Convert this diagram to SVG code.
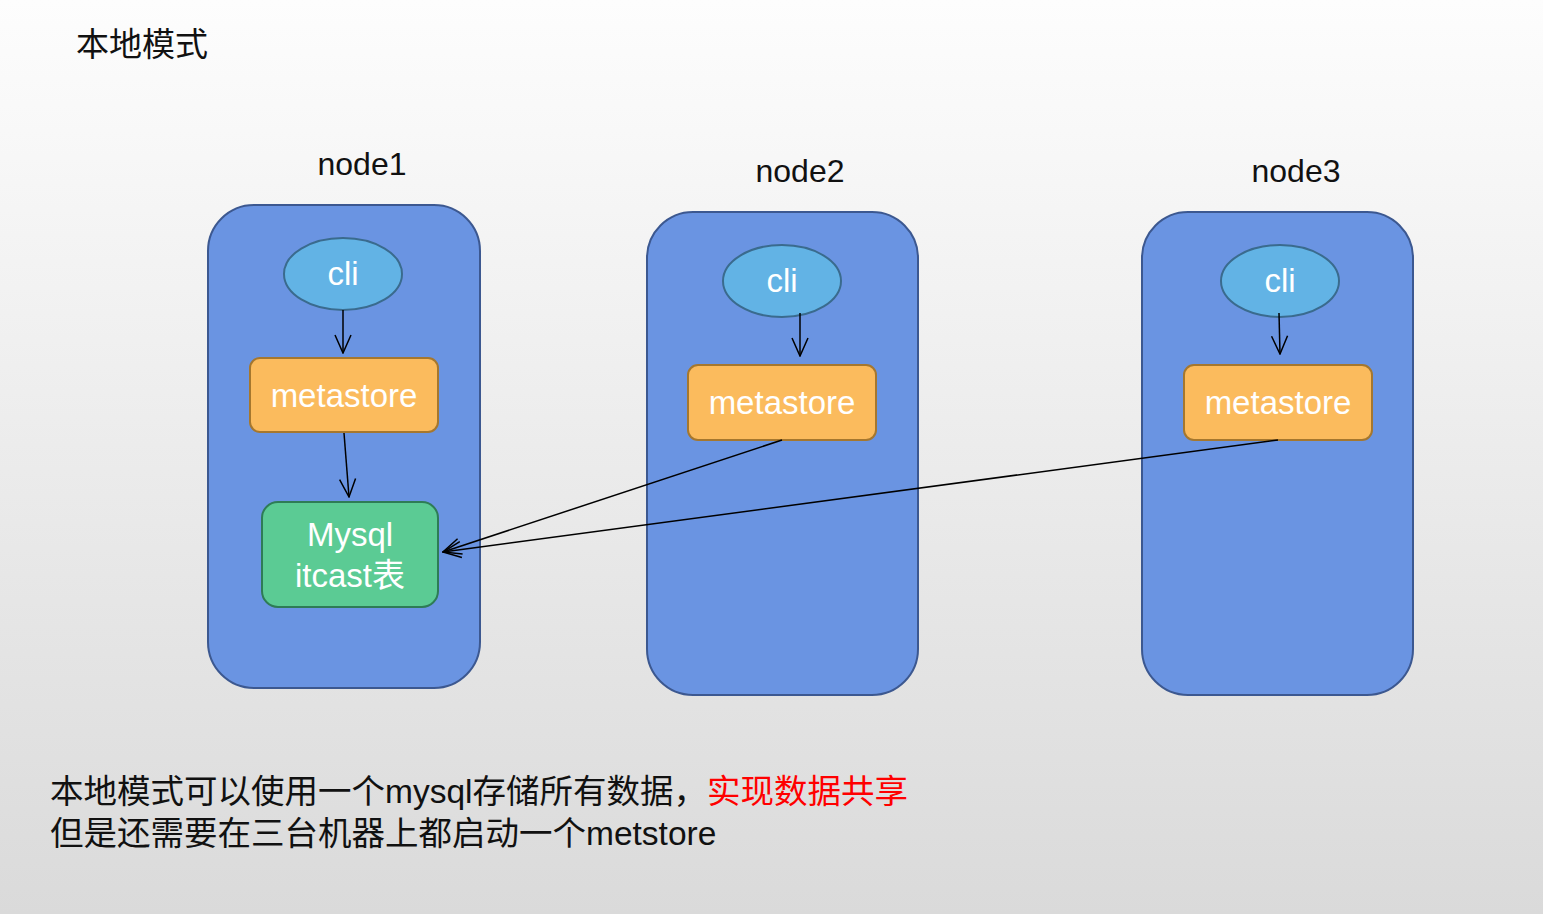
<svg xmlns="http://www.w3.org/2000/svg" width="1543" height="914" viewBox="0 0 1543 914">
<defs>
<linearGradient id="bg" x1="0" y1="0" x2="0" y2="1">
<stop offset="0" stop-color="#fdfdfd"/>
<stop offset="1" stop-color="#dadada"/>
</linearGradient>
<marker id="arr" viewBox="0 0 20 20" refX="19" refY="10" markerWidth="20" markerHeight="20" markerUnits="userSpaceOnUse" orient="auto">
<path d="M1,2 L19,10 L1,18" fill="none" stroke="#000" stroke-width="1.5"/>
</marker>
<style>
.host{fill:#6a94e2;stroke:#3c5890;stroke-width:2}
.cli{fill:#62b3e5;stroke:#3a6b8e;stroke-width:2}
.meta{fill:#fbbb5d;stroke:#a5772e;stroke-width:2}
.db{fill:#5bcb94;stroke:#2e7c56;stroke-width:2}
.lbl{font-family:"Liberation Sans","Noto Sans CJK SC",sans-serif;font-size:33px;fill:#fff;text-anchor:middle}
.hl{font-family:"Liberation Sans","Noto Sans CJK SC",sans-serif;font-size:32px;fill:#111;text-anchor:middle}
.txt{font-family:"Liberation Sans","Noto Sans CJK SC",sans-serif;font-size:33.5px;fill:#111}
.edge{fill:none;stroke:#000;stroke-width:1.5;marker-end:url(#arr)}
</style>
</defs>
<rect x="0" y="0" width="1543" height="914" fill="url(#bg)"/>
<text x="76" y="56" class="txt" style="font-size:33px">本地模式</text>

<g id="node1">
<rect class="host" x="208" y="205" width="272" height="483" rx="46"/>
<text class="hl" x="362" y="175">node1</text>
</g>
<g id="node2">
<rect class="host" x="647" y="212" width="271" height="483" rx="46"/>
<text class="hl" x="800" y="182">node2</text>
</g>
<g id="node3">
<rect class="host" x="1142" y="212" width="271" height="483" rx="46"/>
<text class="hl" x="1296" y="182">node3</text>
</g>

<g id="cli1"><ellipse class="cli" cx="343" cy="274" rx="59" ry="36"/><text class="lbl" x="343" y="285">cli</text></g>
<g id="cli2"><ellipse class="cli" cx="782" cy="281" rx="59" ry="36"/><text class="lbl" x="782" y="292">cli</text></g>
<g id="cli3"><ellipse class="cli" cx="1280" cy="281" rx="59" ry="36"/><text class="lbl" x="1280" y="292">cli</text></g>

<g id="metastore1"><rect class="meta" x="250" y="358" width="188" height="74" rx="10"/><text class="lbl" x="344" y="407">metastore</text></g>
<g id="metastore2"><rect class="meta" x="688" y="365" width="188" height="75" rx="10"/><text class="lbl" x="782" y="414">metastore</text></g>
<g id="metastore3"><rect class="meta" x="1184" y="365" width="188" height="75" rx="10"/><text class="lbl" x="1278" y="414">metastore</text></g>

<g id="mysql"><rect class="db" x="262" y="502" width="176" height="105" rx="16"/>
<text class="lbl" x="350" y="546">Mysql</text>
<text class="lbl" x="350" y="587">itcast表</text></g>

<g id="connectors">
<path class="edge" d="M343,310 L343,353"/>
<path class="edge" d="M344,433 L349,497"/>
<path class="edge" d="M800,313 L800,356"/>
<path class="edge" d="M1279,313 L1280,354"/>
<path class="edge" d="M782,440 L443,552"/>
<path class="edge" d="M1278,440 L443,552"/>
</g>

<text class="txt" x="50" y="803">本地模式可以使用一个mysql存储所有数据，<tspan fill="#ff0000">实现数据共享</tspan></text>
<text class="txt" x="50" y="845">但是还需要在三台机器上都启动一个metstore</text>
</svg>
